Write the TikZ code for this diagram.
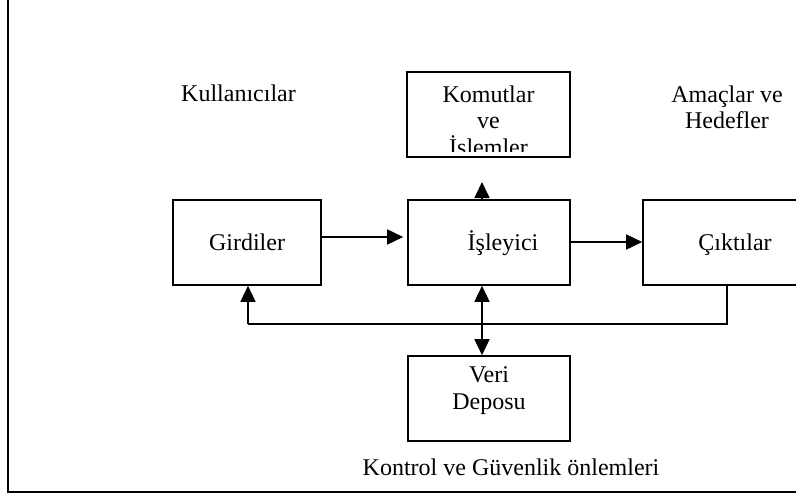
\documentclass[tikz,border=0pt]{standalone}
\usepackage{fontspec}
\setmainfont{Liberation Serif}
\usetikzlibrary{arrows.meta}
\begin{document}
\begin{tikzpicture}[x=1pt,y=-1pt,
  box/.style={draw, line width=1.6pt, inner sep=0pt, minimum height=85pt,
    font=\fontsize{24}{26}\selectfont, text height=16pt, text depth=0pt},
  lbl/.style={font=\fontsize{24}{26}\selectfont, inner sep=0pt, align=center},
  tip/.style={-{Triangle[length=16pt,width=15pt]}},
  twotip/.style={{Triangle[length=16pt,width=15pt]}-{Triangle[length=16pt,width=15pt]}},
  conn/.style={line width=1.6pt, tip},
  fb/.style={line width=1.2pt}]
\useasboundingbox (0,0) rectangle (796,495);
\clip (0,0) rectangle (796,495);
% frame
\draw[line width=1.6pt] (8,-2) -- (8,492) -- (800,492);
% boxes
\node[box, minimum width=148pt] (gir) at (247,242.5) {Girdiler};
\node[box, minimum width=162pt] (isl) at (489,242.5) {\hspace*{28pt}İşleyici};
\node[box, minimum width=184pt] (cik) at (735,242.5) {Çıktılar};
\node[box, minimum width=163pt] (kom) at (488.5,114.5) {};
\node[box, minimum width=162pt] (veri) at (489,398.5) {};
\begin{scope}
  \clip ([xshift=1pt,yshift=-1pt]kom.north west) rectangle (570,151);
  \node[lbl, anchor=north, font=\fontsize{24}{26.6}\selectfont] (komtxt) at (488.5,85.3) {Komutlar\\ve\\İşlemler};
\end{scope}
\node[lbl, anchor=north, font=\fontsize{24}{27}\selectfont] (veritxt) at (489,366.6) {Veri\\Deposu};
% free labels
\node[lbl, anchor=base] (kul) at (238.5,102) {Kullanıcılar};
\node[lbl, anchor=north] (amac) at (727,85.6) {Amaçlar ve\\Hedefler};
\node[lbl, anchor=base] (kont) at (511,475) {Kontrol ve Güvenlik önlemleri};
% connectors
\coordinate (ktip) at (482,182);
\draw[conn] (ktip |- isl.north) -- (ktip);
\draw[conn, shorten >=4pt] (gir.east |- 0,237) -- (isl.west |- 0,237);
\draw[conn] (isl.east |- 0,242) -- (cik.west |- 0,242);
\draw[line width=1.6pt, twotip] (isl.south -| 482,0) -- (veri.north -| 482,0);
\coordinate (fbr) at (727,324);
\coordinate (fbl) at (248,324);
\draw[fb] (cik.south -| fbr) -- (fbr) -- (fbl);
\draw[fb, tip] (fbl) -- (gir.south -| fbl);
\end{tikzpicture}
\end{document}
